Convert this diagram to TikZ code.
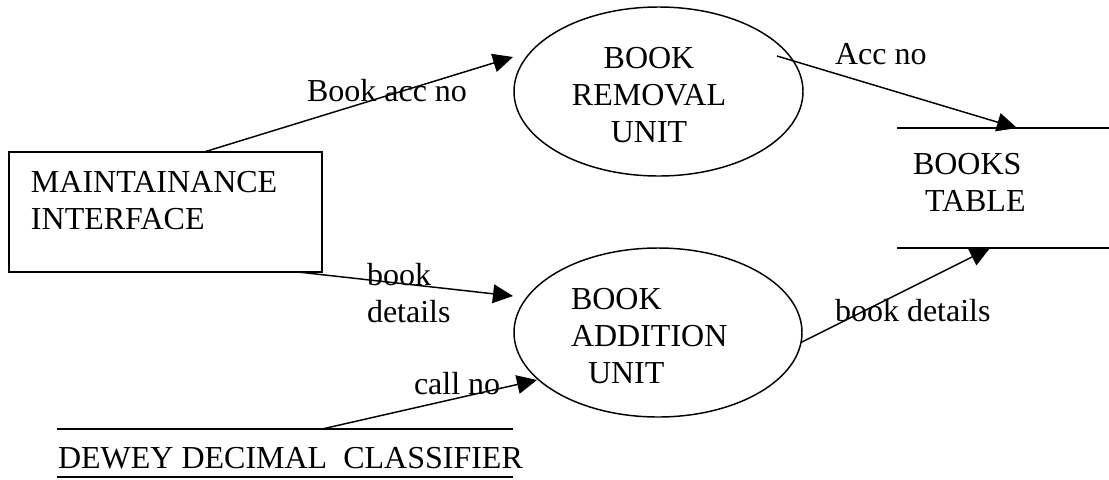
\documentclass[tikz,border=0pt]{standalone}
\usepackage{fontspec}
\setmainfont{Liberation Serif}
\usetikzlibrary{arrows.meta,shapes.geometric,calc}
\begin{document}
\begin{tikzpicture}[x=0.75pt, y=-0.75pt,
  every node/.style={font=\fontsize{24pt}{27.4pt}\selectfont, inner sep=0pt, outer sep=0pt},
  lbl/.style={anchor=base west, align=left},
  rule/.style={line width=1.1pt},
  flow/.style={line width=1.1pt, -{Triangle[length=15pt,width=14pt]}},
  box/.style={draw, line width=1.1pt},
  bubble/.style={draw, ellipse, line width=1.1pt, minimum width=216.75pt, minimum height=126.75pt},
]
\fill[white] (0,0) rectangle (1109,479);
\useasboundingbox (0,0) rectangle (1109,479);

% external entity (multi-line texts are anchored at the baseline of their last line)
\node[box, minimum width=234.75pt, minimum height=90pt] (maint) at (165.5,212) {};
\node[lbl] (mainttxt) at (31,229) {MAINTAINANCE\\INTERFACE};

% processes
\node[bubble] (remove) at (658.5,91.5) {};
\node[anchor=base, align=center] (removetxt) at (649,142) {BOOK\\REMOVAL\\UNIT};

\node[bubble, minimum width=216pt] (add) at (658,332.5) {};
\node[lbl] (addtxt) at (571,383) {BOOK\\ADDITION\\\hspace*{12.75pt}UNIT};

% data stores
\node[minimum width=159pt, minimum height=90pt] (tbl) at (1003,188) {};
\draw[rule] (tbl.north west) -- (tbl.north east);
\draw[rule] (tbl.south west) -- (tbl.south east);
\node[lbl] (tbltxt) at (913,211) {BOOKS\\\hspace*{9pt}TABLE};

\node[minimum width=342pt, minimum height=36pt] (dewey) at (285,453) {};
\draw[rule] (dewey.north west) -- (dewey.north east);
\draw[rule] (dewey.south west) -- (dewey.south east);
\node[lbl] (deweytxt) at (58,468) {DEWEY DECIMAL\ \ CLASSIFIER};

% flow end points
\coordinate (m1) at ($(maint.north west)+(195,0)$);
\coordinate (r1) at ($(remove.center)+(-145.5,-34.5)$);
\coordinate (r2) at ($(remove.center)+(118.5,-35.5)$);
\coordinate (tb1) at ($(tbl.north west)+(120,0)$);
\coordinate (m2) at ($(maint.south west)+(289,0)$);
\coordinate (a1) at ($(add.center)+(-145,-36.5)$);
\coordinate (d1) at ($(dewey.north west)+(265,0)$);
\coordinate (a2) at ($(add.center)+(-121,47.5)$);
\coordinate (tb2) at ($(tbl.south west)+(93,0)$);

% data flows
\draw[flow] (m1) -- (r1);
\draw[flow] (r2) -- (tb1);
\draw[flow] (m2) -- (a1);
\draw[flow] (d1) -- (a2);
\draw[flow] (add.-4) -- (tb2);

% flow labels
\node[lbl] (l1) at (307,101) {Book acc no};
\node[lbl] (l2) at (835,64) {Acc no};
\node[lbl] (l3) at (367,322) {book\\details};
\node[lbl] (l4) at (414,394) {call no};
\node[lbl] (l5) at (835,321) {book details};
\end{tikzpicture}
\end{document}
